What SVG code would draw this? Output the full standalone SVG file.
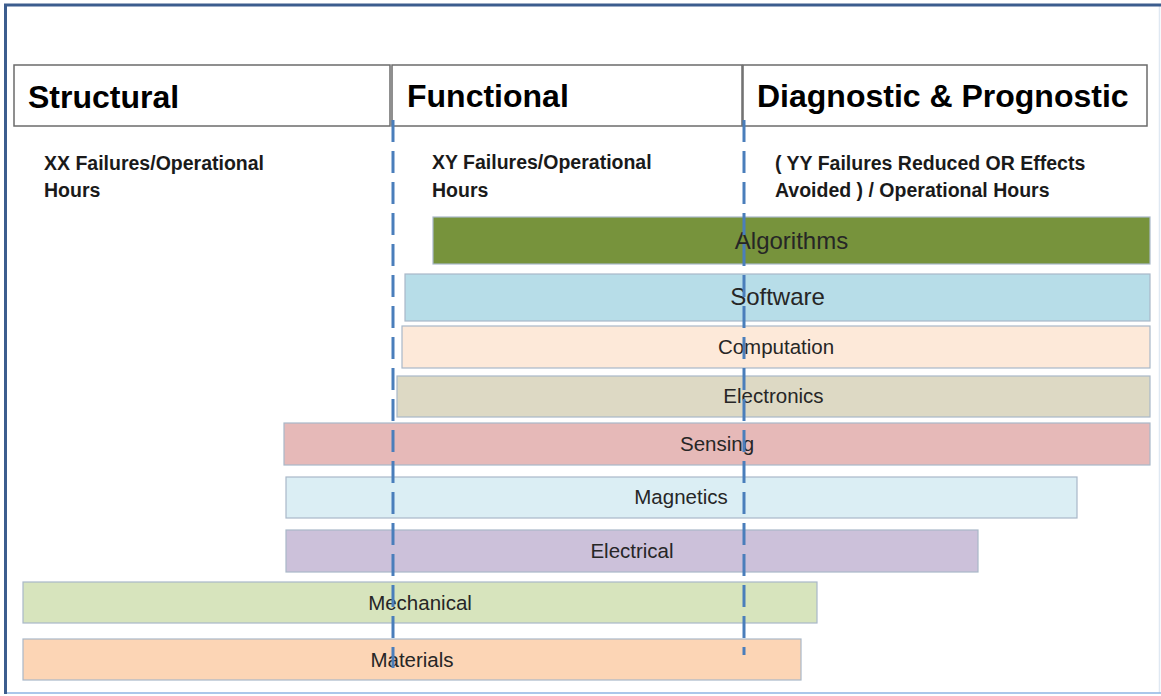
<svg xmlns="http://www.w3.org/2000/svg" width="1161" height="696" viewBox="0 0 1161 696">
<style>
.hdr{fill:#fff;stroke:#6b6b6b;stroke-width:1.5}
.ht{font-family:"Liberation Sans",Arial,sans-serif;font-weight:bold;font-size:32px;fill:#000}
.st{font-family:"Liberation Sans",Arial,sans-serif;font-weight:bold;font-size:19.5px;fill:#1a1a1a}
.bar{stroke:#a9b8c8;stroke-width:1.2}
.bl{font-family:"Liberation Sans",Arial,sans-serif;font-size:20.5px;fill:#262626;text-anchor:middle}
.bb{font-size:24px}
.guide{stroke:#4a7ebb;stroke-width:3;stroke-dasharray:22 9;fill:none}
</style>
<rect x="0" y="0" width="1161" height="696" fill="#fff"/>
<g id="frame">
<line x1="1159.5" y1="6" x2="1159.5" y2="693" stroke="#dfe8f2" stroke-width="1.5"/>
<line x1="5" y1="693" x2="1161" y2="693" stroke="#8eb4e3" stroke-width="1.5"/>
<line x1="4" y1="5" x2="1161" y2="5" stroke="#3c5d8e" stroke-width="3"/>
<line x1="5.5" y1="4" x2="5.5" y2="694" stroke="#3c5d8e" stroke-width="3"/>
</g>
<g id="structural">
<rect class="hdr" x="14" y="65" width="376" height="61"/>
<text class="ht" x="28" y="108">Structural</text>
<text class="st" x="44" y="170">XX Failures/Operational</text>
<text class="st" x="44" y="197">Hours</text>
</g>
<g id="functional">
<rect class="hdr" x="392" y="65" width="350" height="61"/>
<text class="ht" x="407" y="107">Functional</text>
<text class="st" x="432" y="169">XY Failures/Operational</text>
<text class="st" x="432" y="197">Hours</text>
</g>
<g id="diagnostic">
<rect class="hdr" x="743" y="65" width="404" height="61"/>
<text class="ht" x="757" y="107">Diagnostic &amp; Prognostic</text>
<text class="st" x="775" y="170">( YY Failures Reduced OR Effects</text>
<text class="st" x="775" y="197">Avoided ) / Operational Hours</text>
</g>
<g id="algorithms">
<rect class="bar" x="433" y="217" width="717" height="47" fill="#77933c" stroke="#8a9a80"/>
<text class="bl bb" x="791.5" y="249">Algorithms</text>
</g>
<g id="software">
<rect class="bar" x="405" y="274" width="745" height="47" fill="#b7dde8"/>
<text class="bl bb" x="777.5" y="305">Software</text>
</g>
<g id="computation">
<rect class="bar" x="402" y="326" width="748" height="42" fill="#fde9d9"/>
<text class="bl" x="776" y="354">Computation</text>
</g>
<g id="electronics">
<rect class="bar" x="397" y="376" width="753" height="41" fill="#ddd9c4"/>
<text class="bl" x="773.5" y="403">Electronics</text>
</g>
<g id="sensing">
<rect class="bar" x="284" y="423" width="866" height="42" fill="#e6b9b8"/>
<text class="bl" x="717" y="451">Sensing</text>
</g>
<g id="magnetics">
<rect class="bar" x="286" y="477" width="791" height="41" fill="#dbeef4"/>
<text class="bl" x="681" y="504">Magnetics</text>
</g>
<g id="electrical">
<rect class="bar" x="286" y="530" width="692" height="42" fill="#ccc1da"/>
<text class="bl" x="632" y="558">Electrical</text>
</g>
<g id="mechanical">
<rect class="bar" x="23" y="582" width="794" height="41" fill="#d7e4bd"/>
<text class="bl" x="420" y="610">Mechanical</text>
</g>
<g id="materials">
<rect class="bar" x="23" y="639" width="778" height="41" fill="#fcd5b5"/>
<text class="bl" x="412" y="667">Materials</text>
</g>
<g id="connectors">
<line class="guide" x1="393" y1="120" x2="393" y2="668"/>
<line class="guide" x1="744" y1="120" x2="744" y2="655"/>
</g>
</svg>
